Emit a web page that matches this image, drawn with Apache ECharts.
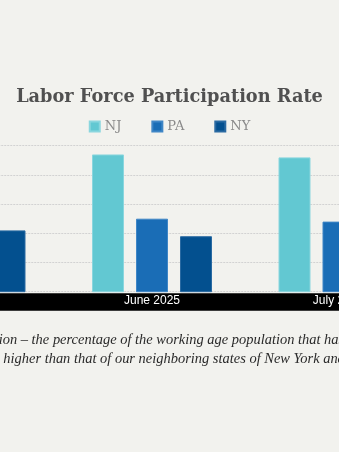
<!DOCTYPE html>
<html>
<head>
<meta charset="utf-8">
<script src="https://cdn.jsdelivr.net/npm/echarts@6/dist/echarts.min.js"></script>
<style>
html,body{margin:0;padding:0;background:#f2f2ee;overflow:hidden;width:339px;height:452px;position:relative;}
#chart{position:absolute;left:-200px;top:0;width:739px;height:452px;}
</style>
</head>
<body>
<div id="chart"></div>
<script>
// Data
const categories = ["May 2025", "June 2025", "July 2025"];
const seriesNames = ["NJ", "PA", "NY"];
const njValues = [64.7, 64.7, 64.6];
const paValues = [62.5, 62.5, 62.4];
const nyValues = [62.1, 61.9, 61.9];
const yTicks = [60, 61, 62, 63, 64, 65];
const titleText = "Labor Force Participation Rate";
const captionLine1 = "Labor force participation – the percentage of the working age population that has a job";
const captionLine1Prefix = "Labor force participati";
const captionLine2 = "New Jersey is higher than that of our neighboring states of New York and Pennsylvania.";
const captionLine2Prefix = "New Jersey is ";

const colors = ["#62c8d2", "#1a6db6", "#03508f"];
const borders = ["#8ad6de", "#3f86c6", "#2a6aa2"];
const OFF = 200; // canvas is shifted left by this many px

const cv = document.createElement('canvas').getContext('2d');
function w(font, txt){ cv.font = font; return cv.measureText(txt).width; }

const capFam = '"Liberation Serif", serif';
const vis1 = "on – the percentage of the working age population that ha";
const capSize = 15 * 336 / w('italic 15px ' + capFam, vis1);
const capFont = 'italic ' + capSize.toFixed(2) + 'px ' + capFam;
const x1 = OFF + 2.7 - w(capFont, captionLine1Prefix);
const x2 = OFF + 3.3 - w(capFont, captionLine2Prefix);

const titleFam = '"DejaVu Serif"';
const titleSize = 21 * 307 / w('bold 21px ' + titleFam, titleText);

const chart = echarts.init(document.getElementById('chart'), null, {renderer: 'canvas'});
const vals = [njValues, paValues, nyValues];
chart.setOption({
  backgroundColor: '#f2f2ee',
  animation: false,
  title: {
    text: titleText, left: 'center', top: 83,
    textStyle: {fontFamily: titleFam, fontWeight: 'bold', fontSize: titleSize, color: '#505050'}
  },
  legend: {
    top: 115, left: 'center', itemWidth: 10, itemHeight: 10, itemGap: 30,
    icon: 'rect',
    textStyle: {fontFamily: '"DejaVu Serif"', fontSize: 13, color: '#8a8a8a'},
    data: seriesNames
  },
  grid: {left: OFF - 127.75, width: 559.5, top: 145.7, height: 291.7 - 145.7, containLabel: false},
  xAxis: {
    type: 'category', data: categories,
    axisLine: {show: false}, axisTick: {show: false},
    axisLabel: {color: '#ffffff', fontFamily: '"Liberation Sans", Arial, sans-serif', fontSize: 12, margin: 3}
  },
  yAxis: {
    type: 'value', min: yTicks[0], max: yTicks[yTicks.length-1], interval: 1,
    axisLabel: {show: false}, axisLine: {show: false}, axisTick: {show: false},
    splitLine: {lineStyle: {type: [2, 1], color: '#d2d2d2', width: 1}}
  },
  graphic: [
    {type: 'rect', z: -1, shape: {x: 0, y: 293.3, width: 739, height: 17.4}, style: {fill: '#000'}},
    {type: 'text', x: x1, y: 333.5, style: {text: captionLine1, font: capFont, fill: '#2a2a2a', verticalAlign: 'alphabetic'}},
    {type: 'text', x: x2, y: 352, style: {text: captionLine2, font: capFont, fill: '#2a2a2a', verticalAlign: 'alphabetic'}}
  ],
  series: seriesNames.map((n, i) => ({
    name: n, type: 'bar', data: vals[i], barWidth: 32, barGap: '37.5%',
    itemStyle: {color: colors[i], borderColor: borders[i], borderWidth: 1}
  }))
});
</script>
</body>
</html>
